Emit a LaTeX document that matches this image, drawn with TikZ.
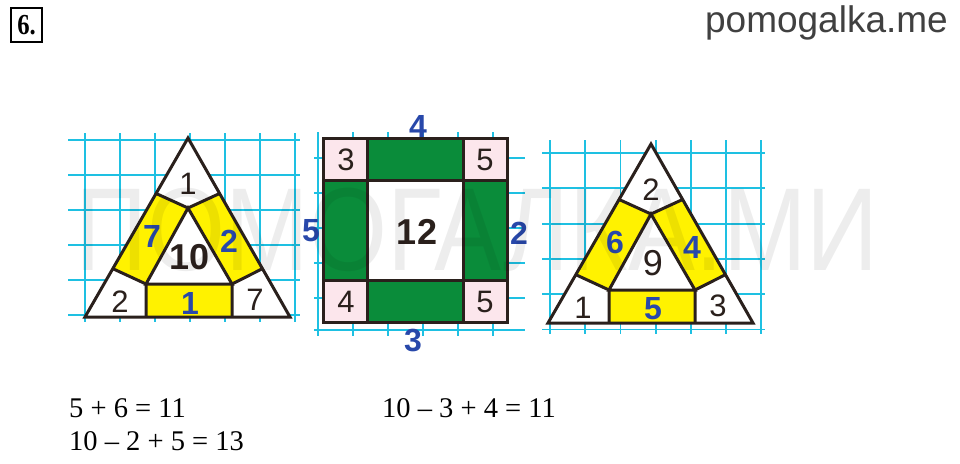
\documentclass[tikz,border=0pt]{standalone}
\usepackage{fontspec}
\setmainfont{Liberation Serif}
\newfontfamily\digitfont{Liberation Sans}
\usetikzlibrary{calc}
\definecolor{gridcyan}{RGB}{30,192,226}
\definecolor{stripyellow}{RGB}{255,242,0}
\definecolor{bargreen}{RGB}{10,140,58}
\definecolor{cornerpink}{RGB}{252,230,236}
\definecolor{edgebrown}{RGB}{42,32,28}
\definecolor{answerblue}{RGB}{40,72,170}
\definecolor{sitegray}{RGB}{64,64,64}
\tikzset{x=1pt, y=-1pt, % one unit is one pixel of the page
gridline/.style={gridcyan, line width=1.8pt}, % squared paper
wall/.style={draw=edgebrown, line width=3pt}, % dark borders of the figures
blacknum/.style={text=edgebrown, inner sep=0pt,
font=\digitfont\fontsize{31}{31}\selectfont},
bluenum/.style={text=answerblue, inner sep=0pt,
font=\digitfont\bfseries\fontsize{32}{32}\selectfont},
bignum/.style={text=edgebrown, inner sep=0pt,
font=\digitfont\bfseries\fontsize{36}{36}\selectfont},
sum/.style={anchor=base west, inner sep=0pt,
font=\fontsize{28.5}{28.5}\selectfont}}

% triangle with three strips: #1 prefix, then top, left strip, right strip,
% middle, left corner, bottom strip, right corner
\newcommand{\stripTriangle}[8]{%
  \coordinate (#1A) at (188,138);
  \coordinate (#1B) at (85,317);
  \coordinate (#1C) at (290,317);
  \coordinate (#1I1) at (188,208);
  \coordinate (#1I2) at (146,284);
  \coordinate (#1I3) at (232,284);
  \coordinate (#1P1) at ($(#1A)!0.31!(#1B)$);
  \coordinate (#1P2) at ($(#1A)!0.31!(#1C)$);
  \coordinate (#1P3) at ($(#1A)!0.73!(#1B)$);
  \coordinate (#1P4) at ($(#1A)!0.73!(#1C)$);
  \coordinate (#1Q1) at (146,317);
  \coordinate (#1Q2) at (232,317);
  \fill[white] (#1A) -- (#1B) -- (#1C) -- cycle;
  \fill[stripyellow] (#1P1) -- (#1I1) -- (#1I2) -- (#1P3) -- cycle;
  \fill[stripyellow] (#1P2) -- (#1I1) -- (#1I3) -- (#1P4) -- cycle;
  \fill[stripyellow] (#1I2) -- (#1I3) -- (#1Q2) -- (#1Q1) -- cycle;
  \draw[wall] (#1A) -- (#1B) -- (#1C) -- cycle;
  \draw[wall] (#1I1) -- (#1I2) -- (#1I3) -- cycle;
  \draw[wall] (#1P1) -- (#1I1) -- (#1P2);
  \draw[wall] (#1P3) -- (#1I2) -- (#1Q1);
  \draw[wall] (#1P4) -- (#1I3) -- (#1Q2);
  \node[blacknum] (#1top) at (188,184) {#2};
  \node[bluenum] (#1left) at (152,236) {#3};
  \node[bluenum] (#1right) at (229,241) {#4};
  \node[bignum] (#1mid) at (190,257) {#5};
  \node[blacknum] (#1lc) at (120,302) {#6};
  \node[bluenum] (#1bot) at (190,303) {#7};
  \node[blacknum] (#1rc) at (255,300) {#8};
}

\begin{document}
\begin{tikzpicture}
\useasboundingbox[fill=white] (0,0) rectangle (960,463);

% header
\node[draw, line width=2pt, minimum width=37pt, minimum height=34pt, inner sep=0pt,
font=\bfseries\fontsize{29}{29}\selectfont, xscale=0.85] (task) at (26.5,25) {6.};
\node[anchor=base east, inner sep=0pt, text=sitegray,
font=\digitfont\fontsize{37}{37}\selectfont] (site) at (948,32) {pomogalka.me};

% squared paper
\foreach \gx in {85,120,...,295}
  \draw[gridline] (\gx,133) -- (\gx,322);
\foreach \gy in {140,175,...,315}
  \draw[gridline] (68,\gy) -- (300,\gy);
\foreach \gx in {318,353,...,493}
  \draw[gridline] (\gx,132) -- (\gx,336);
\foreach \gy in {158,193,...,298,330}
  \draw[gridline] (314,\gy) -- (525,\gy);
\foreach \gx in {550,585.2,...,762}
  \draw[gridline] (\gx,140) -- (\gx,334);
\foreach \gy in {153,188.3,...,331}
  \draw[gridline] (542,\gy) -- (765,\gy);

% left triangle
\stripTriangle{l}{1}{7}{2}{10}{2}{1}{7}

% frame of squares
\coordinate (s1) at (323,138);
\coordinate (s2) at (367,180);
\coordinate (s3) at (463,280);
\coordinate (s4) at (507,322);
\fill[cornerpink] (s1) rectangle (s4);
\fill[bargreen] (s2 |- s1) rectangle (s3 |- s2);
\fill[bargreen] (s2 |- s3) rectangle (s3 |- s4);
\fill[bargreen] (s1 |- s2) rectangle (s2 |- s3);
\fill[bargreen] (s3 |- s2) rectangle (s4 |- s3);
\fill[white] (s2) rectangle (s3);
\draw[wall] (s1) rectangle (s4);
\draw[wall] (s2 |- s1) -- (s2 |- s4);
\draw[wall] (s3 |- s1) -- (s3 |- s4);
\draw[wall] (s1 |- s2) -- (s4 |- s2);
\draw[wall] (s1 |- s3) -- (s4 |- s3);
\node[blacknum] (sqa) at (346,160) {3};
\node[blacknum] (sqb) at (485,160) {5};
\node[blacknum] (sqc) at (346,302) {4};
\node[blacknum] (sqd) at (485,302) {5};
\node[bignum] (sqmid) at (417,232) {12};
\node[bluenum] (sqtop) at (418,126) {4};
\node[bluenum] (sqbot) at (413,341) {3};
\node[bluenum] (sqleft) at (311,231) {5};
\node[bluenum] (sqright) at (519,233) {2};

% right triangle
\begin{scope}[shift={(463,6)}]
\stripTriangle{r}{2}{6}{4}{\mdseries 9}{1}{5}{3}
\end{scope}

% watermark
\node[anchor=base, inner sep=0pt, opacity=0.07, xscale=0.85,
font=\digitfont\fontsize{118}{118}\selectfont] (mark) at (477,270) {ПОМОГАЛКА.МИ};

% answers
\node[sum] (eqa) at (69,417) {5 + 6 = 11};
\node[sum] (eqb) at (69,450) {10 – 2 + 5 = 13};
\node[sum] (eqc) at (382,417) {10 – 3 + 4 = 11};
\end{tikzpicture}
\end{document}
